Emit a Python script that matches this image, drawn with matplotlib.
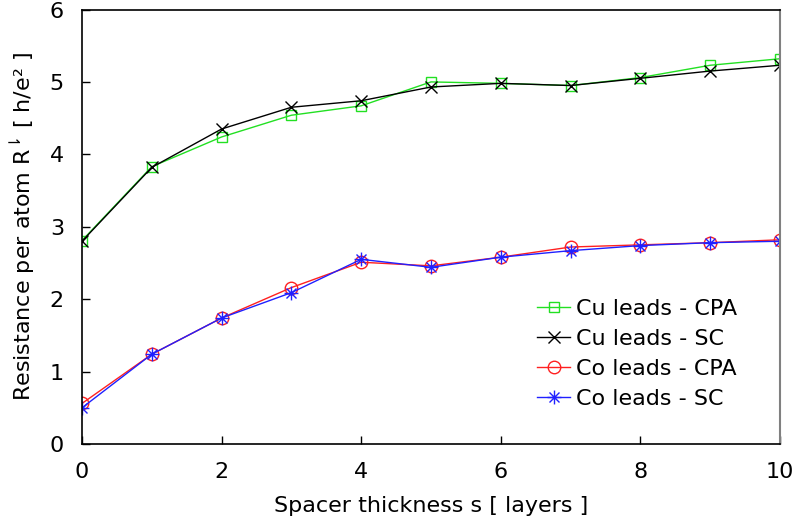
import matplotlib
matplotlib.use("Agg")
import matplotlib.pyplot as plt
from matplotlib.path import Path

# Spacer thickness (layers)
s_layers = [0, 1, 2, 3, 4, 5, 6, 7, 8, 9, 10]

# Resistance per atom, R (h/e^2)
cu_cpa = [2.81, 3.83, 4.24, 4.54, 4.67, 5.00, 4.98, 4.95, 5.06, 5.23, 5.32]
cu_sc = [2.80, 3.82, 4.35, 4.65, 4.74, 4.93, 4.98, 4.95, 5.05, 5.15, 5.23]
co_cpa = [0.56, 1.24, 1.74, 2.16, 2.51, 2.46, 2.58, 2.72, 2.75, 2.78, 2.82]
co_sc = [0.50, 1.24, 1.74, 2.09, 2.55, 2.44, 2.58, 2.67, 2.74, 2.78, 2.80]

series_labels = ["Cu leads - CPA", "Cu leads - SC", "Co leads - CPA", "Co leads - SC"]
x_ticks = [0, 2, 4, 6, 8, 10]
y_ticks = [0, 1, 2, 3, 4, 5, 6]

plt.rcParams["font.family"] = ["DejaVu Sans"]
plt.rcParams["mathtext.fontset"] = "dejavusans"

# gnuplot-style "*" point: a plus and a cross overlaid
d = 0.72
asterisk = Path(
    [(0, -1), (0, 1), (-1, 0), (1, 0), (-d, -d), (d, d), (-d, d), (d, -d)],
    [Path.MOVETO, Path.LINETO] * 4,
)

fig = plt.figure(figsize=(7.96, 5.24), dpi=100)
ax = fig.add_axes([82 / 796, 80 / 524, 698 / 796, 434.5 / 524])

lw = 1.0
ax.plot(s_layers, cu_cpa, color="#22e022", lw=lw, marker="s", ms=7.5,
        mfc="none", mec="#22e022", mew=1.0, label=series_labels[0])
ax.plot(s_layers, cu_sc, color="black", lw=lw, marker="x", ms=8,
        mew=1.0, label=series_labels[1])
ax.plot(s_layers, co_cpa, color="#ff2020", lw=lw, marker="o", ms=9,
        mfc="none", mec="#ff2020", mew=1.0, label=series_labels[2])
ax.plot(s_layers, co_sc, color="#2020ff", lw=lw, marker=asterisk, ms=10,
        mew=1.0, label=series_labels[3])

ax.set_xlim(0, 10)
ax.set_ylim(0, 6)
ax.set_xticks(x_ticks)
ax.set_yticks(y_ticks)
ax.tick_params(axis="both", direction="in", length=6, width=1,
               labelsize=16, top=False, right=False)
ax.tick_params(axis="x", pad=13)
ax.tick_params(axis="y", pad=13)

for side in ("left", "bottom", "top"):
    ax.spines[side].set_color("black")
    ax.spines[side].set_linewidth(1.2)
ax.spines["right"].set_color("#808080")
ax.spines["right"].set_linewidth(1.5)

ax.set_xlabel("Spacer thickness s [ layers ]", fontsize=16, labelpad=10)
ax.set_ylabel("Resistance per atom R$^{\u21c2}$ [ h/e² ]",
              fontsize=16, labelpad=9)

ax.legend(loc="upper left", bbox_to_anchor=(537 / 796, 1 - 299 / 524),
          bbox_transform=fig.transFigure, frameon=False, fontsize=16,
          handlelength=1.5, handletextpad=0.25, labelspacing=0.45,
          borderpad=0, borderaxespad=0)

fig.savefig("out.png", dpi=100)
